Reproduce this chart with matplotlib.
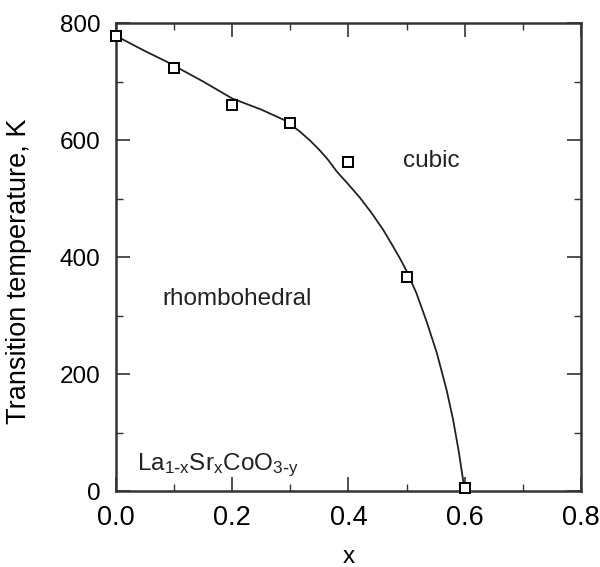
import numpy as np
import matplotlib
matplotlib.use("Agg")
import matplotlib.pyplot as plt
from matplotlib.ticker import MultipleLocator

plt.rcParams['font.family'] = ['Liberation Sans', 'DejaVu Sans']

# measured transition points
x_meas = [0.0, 0.1, 0.2, 0.3, 0.4, 0.5, 0.6]
t_meas = [778, 723, 660, 629, 562, 366, 5]

# guide-to-the-eye curve
x_curve = [0.0, 0.05, 0.087, 0.15, 0.2, 0.25, 0.29, 0.317, 0.335, 0.35, 0.365,
           0.38, 0.40, 0.42, 0.44, 0.46, 0.475, 0.49, 0.5, 0.517, 0.535,
           0.552, 0.569, 0.58, 0.59, 0.6]
t_curve = [778, 752, 734, 700, 671, 652, 634, 614, 598, 583, 566,
           546, 524, 501, 475, 446, 421, 395, 376, 338, 288,
           236, 172, 122, 66, 0]

x_ticks = [0.0, 0.2, 0.4, 0.6, 0.8]
y_ticks = [0, 200, 400, 600, 800]


def main():
    fig = plt.figure(figsize=(6.0, 5.67), dpi=100)
    ax = fig.add_axes([0.1933, 0.134, 0.775, 0.8254])

    ax.plot(x_curve, t_curve, color='#222222', linewidth=1.3)
    ax.plot(x_meas, t_meas, linestyle='none', marker='s', markersize=7,
            markerfacecolor='white', markeredgecolor='black', markeredgewidth=1.4,
            clip_on=False, zorder=5)

    ax.text(0.542, 564, 'cubic', fontsize=17.5, ha='center', va='center', color='#222222')
    ax.text(0.208, 328, 'rhombohedral', fontsize=17.5, ha='center', va='center', color='#222222')
    ax.text(0.036, 36, r'$\mathregular{La_{1\text{-}x}Sr_xCoO_{3\text{-}y}}$', fontsize=17.5,
            ha='left', va='baseline', color='#222222')

    ax.set_xlim(0, 0.8)
    ax.set_ylim(0, 800)
    ax.set_xticks(x_ticks)
    ax.set_yticks(y_ticks)
    ax.set_xticklabels([f'{v:.1f}' for v in x_ticks])
    ax.set_yticklabels([str(v) for v in y_ticks])
    ax.xaxis.set_minor_locator(MultipleLocator(0.1))
    ax.yaxis.set_minor_locator(MultipleLocator(100))

    ax.tick_params(which='both', direction='in', top=True, right=True, color='#333333')
    ax.tick_params(which='major', length=10, width=1.2, labelsize=17.5)
    ax.tick_params(which='minor', length=5, width=1.0)
    ax.tick_params(axis='x', which='major', pad=10, labelsize=19.5)
    ax.tick_params(axis='y', which='major', pad=11)

    for sp in ax.spines.values():
        sp.set_linewidth(1.8)
        sp.set_color('#333333')

    ax.set_xlabel('x', fontsize=17.5)
    ax.set_ylabel('Transition temperature, K', fontsize=19.5)
    ax.yaxis.set_label_coords(-0.18, 0.47)
    ax.xaxis.set_label_coords(0.5, -0.118)

    fig.savefig('out.png', dpi=100)


if __name__ == "__main__":
    main()
